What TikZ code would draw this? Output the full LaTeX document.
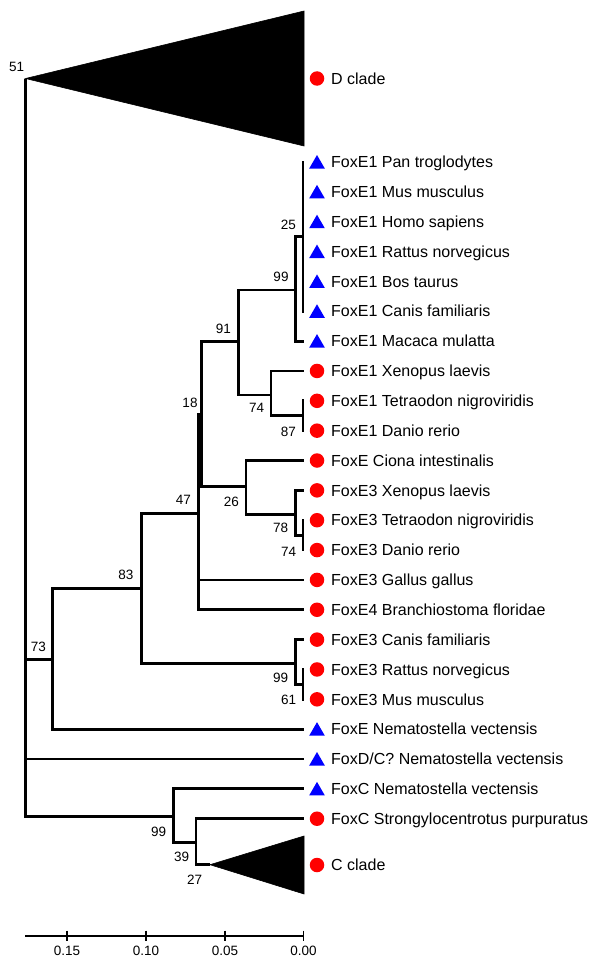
\documentclass[tikz,border=0pt]{standalone}
\usepackage{fontspec}
\setmainfont{Liberation Sans}
\usetikzlibrary{shapes.geometric}

\tikzset{
	branch/.style={line width=2.8pt, line join=miter},
	clade/.style={fill=black, draw=black, line width=0.6pt, line join=miter},
	dot/.style={circle, fill=red, inner sep=0pt, minimum size=14.5pt},
	tri/.style={regular polygon, regular polygon sides=3, fill=blue, inner sep=0pt, minimum size=18pt, yshift=-2pt},
	leaflabel/.style={anchor=base west, inner sep=0pt, font=\fontsize{16}{19}\selectfont},
	boot/.style={inner sep=0pt, font=\fontsize{13.5}{15}\selectfont},
	scalebar/.style={line width=1.5pt},
}

\begin{document}
\begin{tikzpicture}[x=1pt, y=-1pt]
	\useasboundingbox (0,0) rectangle (600,966);

	%internal nodes
	\coordinate (root) at (25.5,78.5);
	\coordinate (n73)  at (52.3,659.3);
	\coordinate (n83)  at (141.3,588.3);
	\coordinate (n47)  at (198.7,513.3);
	\coordinate (n18)  at (201.7,414);
	\coordinate (n91)  at (238.3,341.7);
	\coordinate (n99a) at (295.7,290);
	\coordinate (n25)  at (303,236.6);
	\coordinate (n74a) at (271,395);
	\coordinate (n87)  at (303,415.7);
	\coordinate (n26)  at (246,486.7);
	\coordinate (n78)  at (295.3,514.3);
	\coordinate (n74b) at (303,535.2);
	\coordinate (n99b) at (295.3,663.3);
	\coordinate (n61)  at (303,684.5);
	\coordinate (n99c) at (173.3,816.7);
	\coordinate (n39)  at (196,842.7);
	\coordinate (n27)  at (210,864.7);

	%leaves: tip, marker, name
	\foreach \i/\m/\name/\txt in {
		0/tri/eonePan/{FoxE1 Pan troglodytes},
		1/tri/eoneMus/{FoxE1 Mus musculus},
		2/tri/eoneHomo/{FoxE1 Homo sapiens},
		3/tri/eoneRat/{FoxE1 Rattus norvegicus},
		4/tri/eoneBos/{FoxE1 Bos taurus},
		5/tri/eoneCanis/{FoxE1 Canis familiaris},
		6/tri/eoneMac/{FoxE1 Macaca mulatta},
		7/dot/eoneXen/{FoxE1 Xenopus laevis},
		8/dot/eoneTet/{FoxE1 Tetraodon nigroviridis},
		9/dot/eoneDan/{FoxE1 Danio rerio},
		10/dot/eCiona/{FoxE Ciona intestinalis},
		11/dot/ethreeXen/{FoxE3 Xenopus laevis},
		12/dot/ethreeTet/{FoxE3 Tetraodon nigroviridis},
		13/dot/ethreeDan/{FoxE3 Danio rerio},
		14/dot/ethreeGal/{FoxE3 Gallus gallus},
		15/dot/efourBra/{FoxE4 Branchiostoma floridae},
		16/dot/ethreeCanis/{FoxE3 Canis familiaris},
		17/dot/ethreeRat/{FoxE3 Rattus norvegicus},
		18/dot/ethreeMus/{FoxE3 Mus musculus},
		19/tri/eNem/{FoxE Nematostella vectensis},
		20/tri/dcNem/{FoxD/C? Nematostella vectensis},
		21/tri/cNem/{FoxC Nematostella vectensis},
		22/dot/cStr/{FoxC Strongylocentrotus purpuratus}}{
		\coordinate (\name) at (303.5,162+29.85*\i);
		\node[\m] (\name m) at (317,162+29.85*\i) {};
		\node[leaflabel] (\name t) at (331,167.7+29.85*\i) {\txt};
	}

	%collapsed clades
	\draw[clade] (root) -- (304,11) -- (304,146) -- cycle;
	\node[dot] (dcladem) at (317,78.5) {};
	\node[leaflabel] (dcladet) at (331,84.2) {D clade};
	%
	\draw[clade] (n27) -- (304,836) -- (304,894) -- cycle;
	\node[dot] (ccladem) at (317,865) {};
	\node[leaflabel] (ccladet) at (331,870.7) {C clade};

	%branches
	\draw[branch] (root) |- (n73);
	\draw[branch] (root) |- (dcNem);
	\draw[branch] (root) |- (n99c);
	%
	\draw[branch] (n73) |- (n83);
	\draw[branch] (n73) |- (eNem);
	\draw[branch] (n83) |- (n47);
	\draw[branch] (n83) |- (n99b);
	\draw[branch] (n47) |- (n18);
	\draw[branch] (n47) |- (ethreeGal);
	\draw[branch] (n47) |- (efourBra);
	\draw[branch] (n18) |- (n91);
	\draw[branch] (n18) |- (n26);
	\draw[branch] (n91) |- (n99a);
	\draw[branch] (n91) |- (n74a);
	\draw[branch] (n99a) |- (n25);
	\draw[branch] (n99a) |- (eoneMac);
	\foreach \l in {eonePan,eoneMus,eoneHomo,eoneRat,eoneBos,eoneCanis}
		\draw[branch] (n25) |- (\l);
	\draw[branch] (n74a) |- (eoneXen);
	\draw[branch] (n74a) |- (n87);
	\draw[branch] (n87) |- (eoneTet);
	\draw[branch] (n87) |- (eoneDan);
	\draw[branch] (n26) |- (eCiona);
	\draw[branch] (n26) |- (n78);
	\draw[branch] (n78) |- (ethreeXen);
	\draw[branch] (n78) |- (n74b);
	\draw[branch] (n74b) |- (ethreeTet);
	\draw[branch] (n74b) |- (ethreeDan);
	\draw[branch] (n99b) |- (ethreeCanis);
	\draw[branch] (n99b) |- (n61);
	\draw[branch] (n61) |- (ethreeRat);
	\draw[branch] (n61) |- (ethreeMus);
	%
	\draw[branch] (n99c) |- (cNem);
	\draw[branch] (n99c) |- (n39);
	\draw[branch] (n39) |- (cStr);
	\draw[branch] (n39) |- (n27);

	%bootstrap values
	\node[boot] (b51)  at (16.7,66.7)  {51};
	\node[boot] (b25)  at (288.3,225)  {25};
	\node[boot] (b99a) at (281,276.7)  {99};
	\node[boot] (b91)  at (223.3,329.3) {91};
	\node[boot] (b18)  at (190,402.7)  {18};
	\node[boot] (b74a) at (256.7,408.3) {74};
	\node[boot] (b87)  at (288.3,431.7) {87};
	\node[boot] (b47)  at (183.3,500)  {47};
	\node[boot] (b26)  at (231.3,502.3) {26};
	\node[boot] (b78)  at (280.7,528.3) {78};
	\node[boot] (b74b) at (288.7,551.7) {74};
	\node[boot] (b83)  at (126,575)    {83};
	\node[boot] (b73)  at (38.3,647.3) {73};
	\node[boot] (b99b) at (280.7,677.7) {99};
	\node[boot] (b61)  at (288.7,700)  {61};
	\node[boot] (b99c) at (158.7,831.7) {99};
	\node[boot] (b39)  at (181.7,857.3) {39};
	\node[boot] (b27)  at (194.7,880)  {27};

	%scale
	\coordinate (axL) at (25,936);
	\coordinate (axR) at (303.5,936);
	\draw[scalebar] (axL) -- (axR);
	\foreach \v/\x/\k in {0.15/67/a, 0.10/146/b, 0.05/225/c, 0.00/303.5/d}{
		\draw[scalebar] (\x,930.5) -- (\x,940.5);
		\node[boot] (tick\k) at (\x,950.5) {\v};
	}
\end{tikzpicture}
\end{document}
